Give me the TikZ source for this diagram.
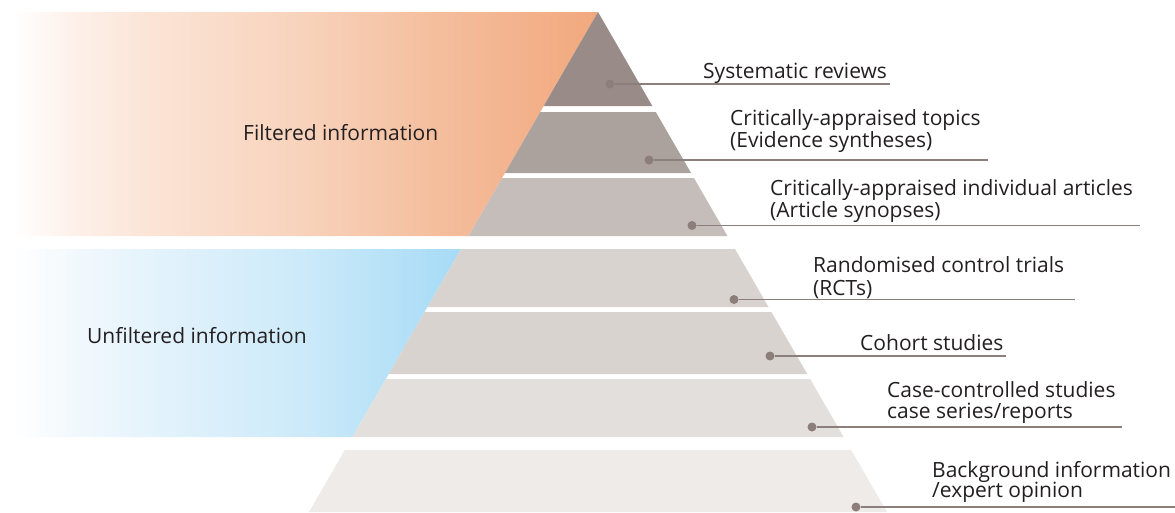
\documentclass[tikz,border=0pt]{standalone}
\usepackage{fontspec}
\setmainfont{Open Sans}
\definecolor{txt}{HTML}{231F20}
\definecolor{or1}{HTML}{FDF1EA}
\definecolor{or2}{HTML}{FBE4D6}
\definecolor{or3}{HTML}{F8D3BC}
\definecolor{or4}{HTML}{F4BD9C}
\definecolor{or5}{HTML}{F2A87D}
\definecolor{bl1}{HTML}{F3F9FD}
\definecolor{bl2}{HTML}{E4F3FC}
\definecolor{bl3}{HTML}{CDEAF9}
\definecolor{bl5}{HTML}{A6DBF6}
\definecolor{t1}{HTML}{998B87}
\definecolor{t2}{HTML}{ABA19D}
\definecolor{t3}{HTML}{C5BDBA}
\definecolor{t4}{HTML}{D9D3D0}
\definecolor{t5}{HTML}{D9D3D0}
\definecolor{t6}{HTML}{E3DFDC}
\definecolor{t7}{HTML}{EFEBE9}
\definecolor{dotc}{HTML}{8C7E7A}
\definecolor{linec}{HTML}{8C7F7B}
\pgfdeclarehorizontalshading{orfade}{100bp}{color(0bp)=(white); color(25bp)=(white); color(26bp)=(white); color(31bp)=(or1); color(37.5bp)=(or2); color(50bp)=(or3); color(62bp)=(or4); color(75bp)=(or5); color(100bp)=(or5)}
\pgfdeclarehorizontalshading{blfade}{100bp}{color(0bp)=(white); color(25bp)=(white); color(26.3bp)=(white); color(32.6bp)=(bl1); color(41.3bp)=(bl2); color(57.5bp)=(bl3); color(75bp)=(bl5); color(100bp)=(bl5)}
\begin{document}
\begin{tikzpicture}[x=1pt,y=-1pt,
  lab/.style={anchor=base west, inner sep=0pt, font=\fontsize{21}{25}\selectfont, text=txt},
  pdot/.style={circle, fill=dotc, inner sep=0pt, minimum size=9pt},
  leader/.style={draw=linec, line width=1.3pt}]
\useasboundingbox (0,0) rectangle (1175,512);
% coloured side bands
\shade[shading=orfade] (0,12) -- (598,12) -- ({598-0.578*224},236) -- (0,236) -- cycle;
\shade[shading=blfade] (0,249) -- ({598-0.578*237},249) -- ({598-0.578*425},437) -- (0,437) -- cycle;
% pyramid tiers
\fill[t1] (598,12) -- ({598+0.578*94},106) -- ({598-0.578*94},106) -- cycle;
\foreach \t/\b/\c in {112/173/t2, 178/236/t3, 249/307/t4, 312/374/t5, 379/437/t6, 450/512/t7}
  \fill[\c] ({598-0.578*(\t-12)},\t) -- ({598+0.578*(\t-12)},\t) -- ({598+0.578*(\b-12)},\b) -- ({598-0.578*(\b-12)},\b) -- cycle;
% side labels
\node[lab] (filt) at (243,140.7) {Filtered information};
\node[lab] (unfilt) at (87,343) {Unfiltered information};
% dots and leaders
\node[pdot] (d1) at (610,84) {};
\node[pdot] (d2) at (649,160) {};
\node[pdot] (d3) at (692,225.5) {};
\node[pdot] (d4) at (734,299.5) {};
\node[pdot] (d5) at (770,356) {};
\node[pdot] (d6) at (812,427) {};
\node[pdot] (d7) at (856,507) {};
\coordinate (e1) at (890,84);
\coordinate (e2) at (988,160);
\coordinate (e3) at (1140,225.5);
\coordinate (e4) at (1075,299.5);
\coordinate (e5) at (1006,356);
\coordinate (e6) at (1122,427);
\coordinate (e7) at (1175,507);
\foreach \i in {1,...,7} \draw[leader] (d\i.east) -- (e\i);
% tier labels
\node[lab] (l1) at (703,78.3) {Systematic reviews};
\node[lab] (l2a) at (730,125) {Critically-appraised topics};
\node[lab] (l2b) at (730,147) {(Evidence syntheses)};
\node[lab] (l3a) at (770,195) {Critically-appraised individual articles};
\node[lab] (l3b) at (770,217.3) {(Article synopses)};
\node[lab] (l4a) at (813,272.7) {Randomised control trials};
\node[lab] (l4b) at (813,295) {(RCTs)};
\node[lab] (l5) at (860,350) {Cohort studies};
\node[lab] (l6a) at (887,397) {Case-controlled studies};
\node[lab] (l6b) at (887,418) {case series/reports};
\node[lab] (l7a) at (932,477) {Background information};
\node[lab] (l7b) at (932,497) {/expert opinion};
\end{tikzpicture}
\end{document}
